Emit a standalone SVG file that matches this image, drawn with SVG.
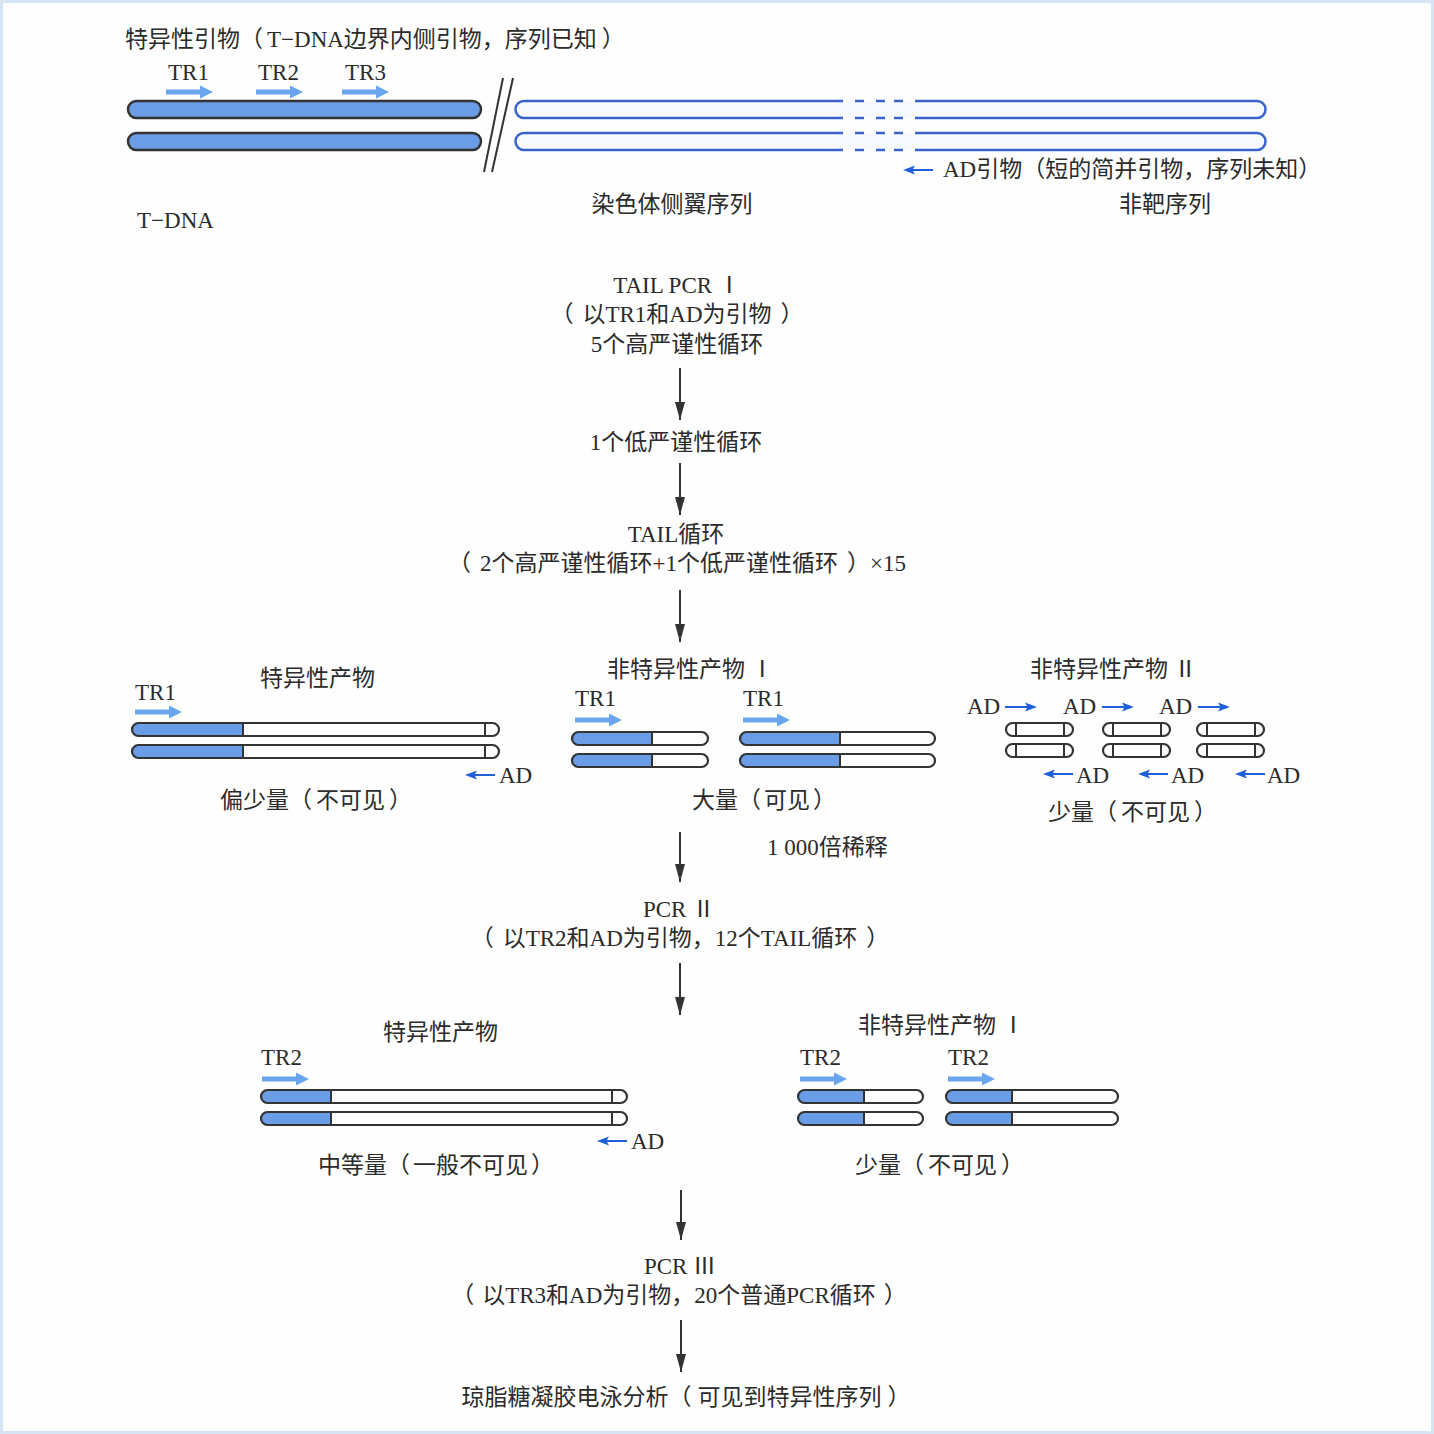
<svg xmlns="http://www.w3.org/2000/svg" xmlns:xlink="http://www.w3.org/1999/xlink" width="1434" height="1434" viewBox="0 0 1434 1434">
<style>
text{font-family:"Liberation Serif","Noto Sans CJK SC",serif;font-size:23px;fill:#2b2b2b}
.c{text-anchor:middle}
.bar{fill:none;stroke:#333;stroke-width:2.2}
.blue{fill:#6a9de6}
.split{stroke:#333;stroke-width:2}
.tb{fill:#6a9de6;stroke:#333;stroke-width:2.5}
.gb{fill:#f6f9fe;stroke:none}
.gl{fill:none;stroke:#3a63c9;stroke-width:2.5}
.flow{stroke:#333;stroke-width:2;fill:none}
.pa{fill:#6aa6ef}
.ad{fill:#1f5fd8}
</style>
<defs>
<path id="pa" d="M0,-2.5 H34 V-6.5 L47,0 L34,6.5 V2.5 H0 Z"/>
<path id="adl" d="M0,0 L12,-4.5 L10,-1 H30 V1 H10 L12,4.5 Z"/>
<path id="adr" d="M0,0 L-12,-4.5 L-10,-1 H-32 V1 H-10 L-12,4.5 Z"/>
<marker id="ah" markerUnits="userSpaceOnUse" markerWidth="18" markerHeight="10" refX="18" refY="5" orient="auto">
<path d="M0,0 L18,5 L0,10 Z" fill="#333"/>
</marker>
</defs>
<rect x="0" y="0" width="1434" height="1434" fill="#fefefe"/>
<rect x="1.5" y="1.5" width="1431" height="1431" fill="none" stroke="#d6e4f4" stroke-width="3"/>

<g id="top">
<text x="125" y="47">特异性引物（<tspan dx="4">T−DNA边界内侧引物，序列已知</tspan><tspan dx="5">）</tspan></text>
<text x="168" y="80">TR1</text>
<text x="258" y="80">TR2</text>
<text x="345" y="80">TR3</text>
<use xlink:href="#pa" class="pa" x="166" y="92"/>
<use xlink:href="#pa" class="pa" x="256" y="92"/>
<use xlink:href="#pa" class="pa" x="342" y="92"/>
<rect class="tb" x="128" y="101" width="353" height="17" rx="8.5"/>
<rect class="tb" x="128" y="133" width="353" height="17" rx="8.5"/>
<line x1="484" y1="172" x2="503" y2="78" stroke="#333" stroke-width="2"/>
<line x1="492" y1="172" x2="513" y2="78" stroke="#333" stroke-width="2"/>
<path class="gb" d="M843,101 H524 A8.5,8.5 0 0 0 524,118 H843 Z M915,101 H1257 A8.5,8.5 0 0 1 1257,118 H915 Z M843,133 H524 A8.5,8.5 0 0 0 524,150 H843 Z M915,133 H1257 A8.5,8.5 0 0 1 1257,150 H915 Z"/>
<rect class="gb" x="843" y="101" width="72" height="17"/>
<rect class="gb" x="843" y="133" width="72" height="17"/>
<path class="gl" d="M843,101 H524 A8.5,8.5 0 0 0 524,118 H843 M915,101 H1257 A8.5,8.5 0 0 1 1257,118 H915 M843,133 H524 A8.5,8.5 0 0 0 524,150 H843 M915,133 H1257 A8.5,8.5 0 0 1 1257,150 H915"/>
<path class="gl" d="M855,101 h9 M876,101 h9 M894,101 h9 M855,118 h9 M876,118 h9 M894,118 h9 M855,133 h9 M876,133 h9 M894,133 h9 M855,150 h9 M876,150 h9 M894,150 h9"/>
<use xlink:href="#adl" class="ad" x="903" y="170"/>
<text x="943" y="177">AD引物（短的简并引物，序列未知）</text>
<text x="672" y="212" class="c">染色体侧翼序列</text>
<text x="1165" y="212" class="c">非靶序列</text>
<text x="137" y="228">T−DNA</text>
</g>

<g id="step1">
<text x="677" y="293" class="c">TAIL PCR Ⅰ</text>
<text x="677" y="322" class="c">（<tspan dx="9">以TR1和AD为引物</tspan><tspan dx="9">）</tspan></text>
<text x="677" y="352" class="c">5个高严谨性循环</text>
</g>
<g id="step2"><text x="676" y="450" class="c">1个低严谨性循环</text></g>
<g id="step3">
<text x="676" y="542" class="c">TAIL循环</text>
<text x="677" y="571" class="c">（<tspan dx="9">2个高严谨性循环+1个低严谨性循环</tspan><tspan dx="9">）</tspan>×15</text>
</g>

<g id="prod1-specific">
<text x="260" y="686">特异性产物</text>
<text x="135" y="700">TR1</text>
<use xlink:href="#pa" class="pa" x="135" y="712"/>
<path class="blue" d="M243,723 H138.5 A6.5,6.5 0 0 0 138.5,736 H243 Z"/>
<path class="blue" d="M243,745 H138.5 A6.5,6.5 0 0 0 138.5,758 H243 Z"/>
<rect class="bar" x="132" y="723" width="367" height="13" rx="6.5"/>
<rect class="bar" x="132" y="745" width="367" height="13" rx="6.5"/>
<path class="split" d="M243,723 V736 M243,745 V758 M485,723 V736 M485,745 V758"/>
<use xlink:href="#adl" class="ad" x="465" y="775"/>
<text x="499" y="783">AD</text>
<text x="220" y="808">偏少量（<tspan dx="4">不可见</tspan><tspan dx="4">）</tspan></text>
</g>

<g id="prod1-nonspecific1">
<text x="607" y="677">非特异性产物 Ⅰ</text>
<text x="575" y="706">TR1</text>
<use xlink:href="#pa" class="pa" x="575" y="720"/>
<text x="743" y="706">TR1</text>
<use xlink:href="#pa" class="pa" x="743" y="720"/>
<path class="blue" d="M652,732 H578.5 A6.5,6.5 0 0 0 578.5,745 H652 Z"/>
<path class="blue" d="M652,754 H578.5 A6.5,6.5 0 0 0 578.5,767 H652 Z"/>
<rect class="bar" x="572" y="732" width="136" height="13" rx="6.5"/>
<rect class="bar" x="572" y="754" width="136" height="13" rx="6.5"/>
<path class="blue" d="M840,732 H746.5 A6.5,6.5 0 0 0 746.5,745 H840 Z"/>
<path class="blue" d="M840,754 H746.5 A6.5,6.5 0 0 0 746.5,767 H840 Z"/>
<rect class="bar" x="740" y="732" width="195" height="13" rx="6.5"/>
<rect class="bar" x="740" y="754" width="195" height="13" rx="6.5"/>
<path class="split" d="M652,732 V745 M652,754 V767 M840,732 V745 M840,754 V767"/>
<text x="692" y="808">大量（<tspan dx="3">可见</tspan><tspan dx="3">）</tspan></text>
</g>

<g id="prod1-nonspecific2">
<text x="1030" y="677">非特异性产物 Ⅱ</text>
<text x="967" y="714">AD</text>
<use xlink:href="#adr" class="ad" x="1037" y="707"/>
<text x="1063" y="714">AD</text>
<use xlink:href="#adr" class="ad" x="1134" y="707"/>
<text x="1159" y="714">AD</text>
<use xlink:href="#adr" class="ad" x="1230" y="707"/>
<rect class="bar" x="1006" y="723" width="67" height="13" rx="6.5"/>
<rect class="bar" x="1006" y="744" width="67" height="13" rx="6.5"/>
<rect class="bar" x="1103" y="723" width="67" height="13" rx="6.5"/>
<rect class="bar" x="1103" y="744" width="67" height="13" rx="6.5"/>
<rect class="bar" x="1197" y="723" width="67" height="13" rx="6.5"/>
<rect class="bar" x="1197" y="744" width="67" height="13" rx="6.5"/>
<path class="split" d="M1016,723 V736 M1064,723 V736 M1016,744 V757 M1064,744 V757 M1113,723 V736 M1161,723 V736 M1113,744 V757 M1161,744 V757 M1207,723 V736 M1255,723 V736 M1207,744 V757 M1255,744 V757"/>
<use xlink:href="#adl" class="ad" x="1043" y="774"/>
<text x="1076" y="783">AD</text>
<use xlink:href="#adl" class="ad" x="1138" y="774"/>
<text x="1171" y="783">AD</text>
<use xlink:href="#adl" class="ad" x="1235" y="774"/>
<text x="1267" y="783">AD</text>
<text x="1048" y="820">少量（<tspan dx="4">不可见</tspan><tspan dx="4">）</tspan></text>
</g>

<g id="dilute"><text x="767" y="855">1 000倍稀释</text></g>
<g id="step4">
<text x="679" y="917" class="c">PCR Ⅱ</text>
<text x="680" y="946" class="c">（<tspan dx="9">以TR2和AD为引物，12个TAIL循环</tspan><tspan dx="9">）</tspan></text>
</g>

<g id="prod2-specific">
<text x="383" y="1040">特异性产物</text>
<text x="261" y="1065">TR2</text>
<use xlink:href="#pa" class="pa" x="262" y="1079"/>
<path class="blue" d="M331,1090 H267.5 A6.5,6.5 0 0 0 267.5,1103 H331 Z"/>
<path class="blue" d="M331,1112 H267.5 A6.5,6.5 0 0 0 267.5,1125 H331 Z"/>
<rect class="bar" x="261" y="1090" width="366" height="13" rx="6.5"/>
<rect class="bar" x="261" y="1112" width="366" height="13" rx="6.5"/>
<path class="split" d="M331,1090 V1103 M331,1112 V1125 M612,1090 V1103 M612,1112 V1125"/>
<use xlink:href="#adl" class="ad" x="597" y="1141"/>
<text x="631" y="1149">AD</text>
<text x="318" y="1173">中等量（<tspan dx="3">一般不可见</tspan><tspan dx="3">）</tspan></text>
</g>

<g id="prod2-nonspecific1">
<text x="858" y="1033">非特异性产物 Ⅰ</text>
<text x="800" y="1065">TR2</text>
<use xlink:href="#pa" class="pa" x="800" y="1079"/>
<text x="948" y="1065">TR2</text>
<use xlink:href="#pa" class="pa" x="948" y="1079"/>
<path class="blue" d="M864,1090 H804.5 A6.5,6.5 0 0 0 804.5,1103 H864 Z"/>
<path class="blue" d="M864,1112 H804.5 A6.5,6.5 0 0 0 804.5,1125 H864 Z"/>
<rect class="bar" x="798" y="1090" width="125" height="13" rx="6.5"/>
<rect class="bar" x="798" y="1112" width="125" height="13" rx="6.5"/>
<path class="blue" d="M1012,1090 H952.5 A6.5,6.5 0 0 0 952.5,1103 H1012 Z"/>
<path class="blue" d="M1012,1112 H952.5 A6.5,6.5 0 0 0 952.5,1125 H1012 Z"/>
<rect class="bar" x="946" y="1090" width="172" height="13" rx="6.5"/>
<rect class="bar" x="946" y="1112" width="172" height="13" rx="6.5"/>
<path class="split" d="M864,1090 V1103 M864,1112 V1125 M1012,1090 V1103 M1012,1112 V1125"/>
<text x="855" y="1173">少量（<tspan dx="4">不可见</tspan><tspan dx="4">）</tspan></text>
</g>

<g id="step5">
<text x="680" y="1274" class="c">PCR Ⅲ</text>
<text x="679" y="1303" class="c">（<tspan dx="8">以TR3和AD为引物，20个普通PCR循环</tspan><tspan dx="8">）</tspan></text>
</g>
<g id="step6"><text x="686" y="1405" class="c">琼脂糖凝胶电泳分析（<tspan dx="6">可见到特异性序列</tspan><tspan dx="6">）</tspan></text></g>

<g id="connectors">
<line class="flow" x1="680" y1="368" x2="680" y2="420" marker-end="url(#ah)"/>
<line class="flow" x1="680" y1="463" x2="680" y2="515" marker-end="url(#ah)"/>
<line class="flow" x1="680" y1="590" x2="680" y2="642" marker-end="url(#ah)"/>
<line class="flow" x1="680" y1="832" x2="680" y2="882" marker-end="url(#ah)"/>
<line class="flow" x1="680" y1="963" x2="680" y2="1015" marker-end="url(#ah)"/>
<line class="flow" x1="681" y1="1190" x2="681" y2="1240" marker-end="url(#ah)"/>
<line class="flow" x1="681" y1="1320" x2="681" y2="1372" marker-end="url(#ah)"/>
</g>
</svg>
